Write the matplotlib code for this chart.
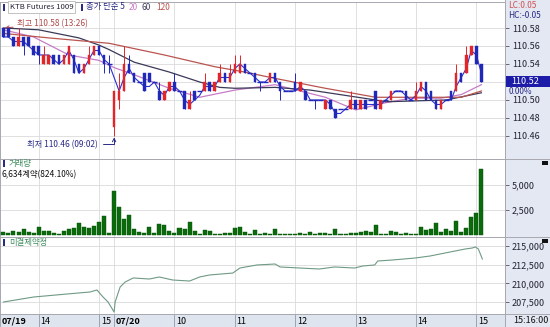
import numpy as np
import pandas as pd
import matplotlib
matplotlib.use('Agg')
import matplotlib.pyplot as plt
from matplotlib.patches import Rectangle
from matplotlib.lines import Line2D

plt.rcParams['font.family'] = ['Noto Sans CJK KR', 'DejaVu Sans']

W, H = 550, 327

# 5 minute bars: 07/19 13:25 .. 15:10, then 07/20 09:00 .. 15:05
# prices are hundredths above 110.00 (KTB futures tick = 0.01)
open_t = [58, 58, 57, 56, 57, 57, 56, 56, 54, 54, 55, 55, 54, 54, 55, 54, 53, 54, 55, 56, 55, 54,
          47, 50, 51, 54, 53, 52, 53, 53, 52, 51, 50, 51, 52, 51, 51, 49, 51, 51, 51, 52, 51, 52,
          53, 52, 53, 53, 54, 53, 53, 52, 52, 52, 53, 52, 51, 51, 52, 51, 51, 50, 50, 50, 49, 50,
          49, 49, 49, 49, 50, 49, 50, 50, 51, 49, 50, 50, 51, 51, 51, 50, 50, 51, 52, 51, 50, 49,
          50, 51, 51, 53, 53, 55, 56, 54]
high_t = [58, 58, 57, 58, 57, 57, 56, 56, 56, 55, 55, 55, 55, 56, 55, 54, 54, 56, 56, 56, 55, 55,
          51, 53, 56, 55, 53, 52, 53, 53, 52, 52, 51, 52, 53, 51, 51, 51, 51, 51, 53, 52, 52, 54,
          53, 54, 55, 55, 54, 53, 53, 52, 52, 53, 53, 52, 51, 51, 53, 52, 51, 50, 50, 50, 50, 50,
          49, 49, 49, 51, 50, 50, 50, 50, 51, 50, 50, 51, 51, 51, 51, 50, 52, 52, 52, 51, 50, 50,
          50, 51, 54, 53, 56, 56, 56, 54]
low_t = [57, 57, 56, 56, 55, 56, 55, 54, 54, 54, 54, 54, 54, 54, 53, 53, 53, 54, 55, 55, 53, 53,
         46, 49, 51, 53, 52, 52, 51, 52, 52, 50, 50, 51, 51, 51, 49, 49, 50, 51, 51, 51, 51, 52,
         52, 52, 53, 53, 53, 53, 52, 51, 52, 52, 52, 50, 51, 51, 51, 51, 50, 50, 49, 50, 49, 49,
         48, 49, 49, 49, 49, 49, 49, 50, 49, 49, 50, 50, 51, 51, 50, 50, 50, 51, 50, 50, 49, 49,
         50, 50, 51, 52, 53, 55, 54, 52]
close_t = [57, 57, 56, 57, 56, 56, 55, 55, 55, 55, 54, 54, 55, 56, 53, 53, 54, 55, 56, 55, 54, 54,
           51, 51, 54, 53, 52, 52, 51, 52, 52, 50, 51, 52, 51, 51, 49, 50, 50, 51, 52, 51, 52, 53,
           52, 53, 54, 54, 53, 53, 52, 52, 52, 53, 52, 51, 51, 51, 51, 52, 50, 50, 50, 50, 50, 49,
           48, 49, 49, 50, 49, 50, 49, 50, 49, 50, 50, 51, 51, 51, 50, 50, 51, 52, 50, 50, 49, 50,
           50, 50, 53, 52, 55, 56, 54, 52]
volume = [300, 250, 450, 300, 600, 350, 200, 800, 450, 400, 250, 150, 450, 600, 700, 1200, 800, 700,
          900, 1300, 1900, 200,
          4400, 2800, 1600, 2000, 600, 300, 250, 800, 200, 1100, 1000, 400, 200, 700, 600, 1300, 400,
          150, 500, 450, 150, 100, 250, 200, 700, 800, 350, 100, 500, 100, 200, 150, 600, 150, 100,
          100, 150, 200, 150, 300, 100, 200, 200, 150, 600, 150, 100, 200, 250, 350, 400, 300, 1000,
          100, 150, 450, 350, 150, 200, 100, 150, 800, 500, 600, 1200, 300, 600, 400, 1400, 350, 700,
          1800, 2200, 6634]
vol_ratio = 824.10

# moving averages
ma20_time = ['07/19 13:25', '07/19 13:55', '07/19 14:30', '07/19 15:00', '07/20 09:00', '07/20 09:20',
             '07/20 09:55', '07/20 10:25', '07/20 11:00', '07/20 11:40', '07/20 12:30', '07/20 13:00',
             '07/20 13:30', '07/20 13:55', '07/20 14:25', '07/20 14:45', '07/20 15:05']
ma20_val = [110.578, 110.570, 110.550, 110.544, 110.536, 110.528, 110.513, 110.503, 110.511, 110.517,
            110.503, 110.489, 110.497, 110.502, 110.502, 110.506, 110.517]
ma60_time = ['07/19 13:25', '07/19 14:00', '07/19 14:40', '07/19 15:00', '07/19 15:10', '07/20 09:20',
             '07/20 09:55', '07/20 10:25', '07/20 10:45', '07/20 11:00', '07/20 11:40', '07/20 12:15',
             '07/20 13:20', '07/20 13:30', '07/20 14:30', '07/20 15:05']
ma60_val = [110.580, 110.578, 110.569, 110.561, 110.556, 110.542, 110.531, 110.520, 110.514, 110.513,
            110.514, 110.511, 110.500, 110.498, 110.500, 110.508]
ma120_time = ['07/19 13:25', '07/19 14:10', '07/19 15:10', '07/20 09:50', '07/20 10:40', '07/20 11:10',
              '07/20 11:40', '07/20 12:30', '07/20 13:20', '07/20 14:45', '07/20 15:05']
ma120_val = [110.574, 110.569, 110.563, 110.550, 110.537, 110.531, 110.524, 110.513, 110.503, 110.503,
             110.510]

# open interest
oi_time = ['07/19 13:25', '07/19 13:55', '07/19 14:28', '07/19 14:51', '07/19 14:58', '07/19 15:04',
           '07/19 15:09', '07/20 09:00', '07/20 09:01', '07/20 09:06', '07/20 09:11', '07/20 09:19',
           '07/20 09:35', '07/20 09:45', '07/20 09:58', '07/20 10:15', '07/20 10:25', '07/20 10:35',
           '07/20 10:58', '07/20 11:05', '07/20 11:22', '07/20 11:40', '07/20 11:45', '07/20 12:05',
           '07/20 12:24', '07/20 12:39', '07/20 12:59', '07/20 13:07', '07/20 13:19', '07/20 13:22',
           '07/20 13:37', '07/20 13:59', '07/20 14:14', '07/20 14:24', '07/20 14:34', '07/20 14:49',
           '07/20 14:56', '07/20 14:59', '07/20 15:02', '07/20 15:06']
oi_val = [207500, 208170, 208570, 208840, 209110, 208170, 207500, 206160, 207500, 209510, 210180,
          210720, 210580, 210850, 210450, 210310, 210850, 211120, 211380, 212050, 212460, 212590,
          212190, 212050, 211920, 212190, 212050, 212320, 212460, 212990, 213130, 213390, 213660,
          213930, 214200, 214600, 214730, 214870, 214600, 213260]

tick_time = ['07/19 14:00', '07/19 15:00', '07/20 09:00', '07/20 10:00', '07/20 11:00', '07/20 12:00',
             '07/20 13:00', '07/20 14:00', '07/20 15:00']
tick_label = ['14', '15', '07/20', '10', '11', '12', '13', '14', '15']


def slot(stamp):
    day, hm = stamp.split()
    h, m = map(int, hm.split(':'))
    mins = h * 60 + m
    if day == '07/19':
        return (mins - (13 * 60 + 25)) / 5
    return 22 + (mins - 9 * 60) / 5


def rect(x0, y0, x1, y1):
    return [x0 / W, 1 - y1 / H, (x1 - x0) / W, (y1 - y0) / H]


def fx(px):
    return px / W


def fy(py):
    return 1 - py / H


o = 110 + np.array(open_t) / 100
hi = 110 + np.array(high_t) / 100
lo = 110 + np.array(low_t) / 100
c = 110 + np.array(close_t) / 100
xs = np.arange(len(c))
ma5 = pd.Series(c).rolling(2, min_periods=1).mean()

UP, DN = '#e0262a', '#2028b8'
GRID = '#dadada'
EDGE = '#a8a8b0'
NAVY = '#2a2a86'
FS = 6.0
XLIM = (-0.68, 99.7)
ticks = [slot(t) for t in tick_time]

fig = plt.figure(figsize=(W / 100, H / 100), dpi=100)
fig.patches.append(Rectangle((fx(505), 0), 1 - fx(505), 1, transform=fig.transFigure,
                             facecolor='#e3e8f3', edgecolor='none', zorder=-5))

ax_p = fig.add_axes(rect(0, 2, 505, 159))
ax_v = fig.add_axes(rect(0, 159, 505, 237))
ax_o = fig.add_axes(rect(0, 237, 505, 314))
ax_b = fig.add_axes(rect(0, 314, 505, 327))

for ax in (ax_p, ax_v, ax_o):
    ax.set_xlim(*XLIM)
    ax.set_xticks(ticks)
    ax.tick_params(axis='x', length=0, labelbottom=False)
    ax.yaxis.tick_right()
    ax.tick_params(axis='y', length=3, width=0.6, pad=2, labelsize=6.5, colors='#555555',
                   labelcolor='#222233')
    ax.grid(color=GRID, lw=0.6)
    ax.set_axisbelow(True)
    for sp in ax.spines.values():
        sp.set_color(EDGE)
        sp.set_linewidth(0.7)

# price panel
ax_p.set_ylim(110.4344, 110.6089)
ax_p.set_yticks(np.arange(110.46, 110.585, 0.02))
ax_p.set_yticklabels([f'{v:.2f}' for v in np.arange(110.46, 110.585, 0.02)])
ax_p.plot(xs, ma5, color='#2a30d0', lw=0.8, zorder=4)
ax_p.plot([slot(t) for t in ma20_time], ma20_val, color='#c77cc7', lw=0.9, zorder=3)
ax_p.plot([slot(t) for t in ma60_time], ma60_val, color='#3a3a58', lw=0.9, zorder=3)
ax_p.plot([slot(t) for t in ma120_time], ma120_val, color='#b9544f', lw=0.9, zorder=3)

for i in xs:
    if c[i] == o[i]:
        ax_p.vlines(i, lo[i], hi[i], color=DN, lw=0.7, zorder=5)
        ax_p.hlines(o[i], i - 0.5, i + 0.5, color=DN, lw=1.0, zorder=5)
        continue
    col = UP if c[i] > o[i] else DN
    ax_p.vlines(i, lo[i], hi[i], color=col, lw=0.7, zorder=5)
    ax_p.bar(i, c[i] - o[i], bottom=o[i], width=0.5, color=col, edgecolor=col, lw=0.3, zorder=6)

i_hi = int(np.argmax(hi))
ax_p.annotate('최고 110.58 (13:26)', xy=(i_hi, hi[i_hi]), xytext=(10, 3), textcoords='offset points',
              fontsize=FS, color='#b04a4a', ha='left', va='center',
              arrowprops=dict(arrowstyle='->', color='#b04a4a', lw=0.7, shrinkA=1, shrinkB=1))
i_lo = int(np.argmin(lo))
ax_p.annotate('최저 110.46 (09:02)', xy=(i_lo, lo[i_lo]), xytext=(-12, -6), textcoords='offset points',
              fontsize=FS, color=NAVY, ha='right', va='center',
              arrowprops=dict(arrowstyle='->', color=NAVY, lw=0.7, shrinkA=2, shrinkB=1,
                              connectionstyle='angle,angleA=0,angleB=90,rad=0'))

# legend line on top
fig.patches.append(Rectangle((fx(3), fy(11)), 2 / W, 7 / H, transform=fig.transFigure,
                             facecolor=NAVY, edgecolor='none'))
fig.text(fx(10), fy(7), 'KTB Futures 1009', fontsize=5.6, color='#222233', va='center',
         bbox=dict(boxstyle='square,pad=0.2', facecolor='white', edgecolor='#b8b8b8', lw=0.6))
fig.patches.append(Rectangle((fx(81), fy(11)), 2 / W, 7 / H, transform=fig.transFigure,
                             facecolor=NAVY, edgecolor='none'))
fig.text(fx(86), fy(7), '종가 단순 5', fontsize=FS, color=NAVY, va='center')
fig.text(fx(129), fy(7), '20', fontsize=FS, color='#c77cc7', va='center')
fig.text(fx(142), fy(7), '60', fontsize=FS, color='#3a3a58', va='center')
fig.text(fx(156), fy(7), '120', fontsize=FS, color='#c0504a', va='center')

fig.text(fx(508), fy(6), 'LC:0.05', fontsize=FS, color='#d05050', va='center')
fig.text(fx(508), fy(15), 'HC:-0.05', fontsize=FS, color=NAVY, va='center')

# last price box
_, last_py = ax_p.transData.transform((0, c[-1]))
last_py = H - last_py
fig.patches.append(Rectangle((fx(506), fy(last_py + 5.5)), 44 / W, 11 / H, transform=fig.transFigure,
                             facecolor='#1c1ca8', edgecolor='none', zorder=5))
fig.text(fx(511), fy(last_py), f'{c[-1]:.2f}', fontsize=6.5, color='white', va='center', zorder=6)
fig.text(fx(509), fy(last_py + 10), '0.00%', fontsize=FS, color=NAVY, va='center')

# volume panel
ax_v.set_ylim(-200, 7600)
ax_v.set_yticks([2500, 5000])
ax_v.set_yticklabels(['2,500', '5,000'])
ax_v.bar(xs, volume, width=0.8, color='#0b6b0b', edgecolor='#045004', lw=0.3, zorder=3)
fig.patches.append(Rectangle((fx(3), fy(167)), 2 / W, 7 / H, transform=fig.transFigure,
                             facecolor=NAVY, edgecolor='none'))
fig.text(fx(9), fy(163.5), '거래량', fontsize=FS, color='#3c8c5c', va='center')
fig.text(fx(2), fy(174.5), f'{volume[-1]:,}계약({vol_ratio:.2f}%)', fontsize=FS, color='#111111',
         va='center')

# open interest panel
ax_o.set_ylim(205895, 216205)
ax_o.set_yticks([207500, 210000, 212500, 215000])
ax_o.set_yticklabels(['207,500', '210,000', '212,500', '215,000'])
ax_o.plot([slot(t) for t in oi_time], oi_val, color='#6f9a84', lw=0.8, zorder=3)
fig.patches.append(Rectangle((fx(3), fy(246)), 2 / W, 7 / H, transform=fig.transFigure,
                             facecolor=NAVY, edgecolor='none'))
fig.text(fx(9), fy(242.5), '미결제약정', fontsize=FS, color='#3c8c5c', va='center')

for py in (161, 239):
    fig.patches.append(Rectangle((fx(542), fy(py + 4)), 6 / W, 4 / H, transform=fig.transFigure,
                                 facecolor='#111111', edgecolor='none'))

# time band
ax_b.set_facecolor('#dfe5ef')
ax_b.set_xlim(*XLIM)
ax_b.set_ylim(0, 1)
ax_b.set_xticks([])
ax_b.set_yticks([])
for sp in ax_b.spines.values():
    sp.set_color(EDGE)
    sp.set_linewidth(0.7)
ax_b.text(XLIM[0] + 0.3, 0.45, '07/19', fontsize=6.5, fontweight='bold', va='center', ha='left')
for t, lab in zip(ticks, tick_label):
    ax_b.axvline(t, color='#9aa3b3', lw=0.7)
    ax_b.text(t + 0.35, 0.45, lab, fontsize=6.5, va='center', ha='left',
              fontweight='bold' if '/' in lab else 'normal')
fig.text(fx(513), fy(320.5), '15:16:00', fontsize=6.5, color='#111111', va='center')

for py in (159, 237, 314):
    fig.lines.append(Line2D([0, 1], [fy(py), fy(py)], transform=fig.transFigure, color=EDGE, lw=0.7))
fig.lines.append(Line2D([fx(505), fx(505)], [0, 1], transform=fig.transFigure, color=EDGE, lw=0.7))

fig.savefig('out.png', dpi=100)
